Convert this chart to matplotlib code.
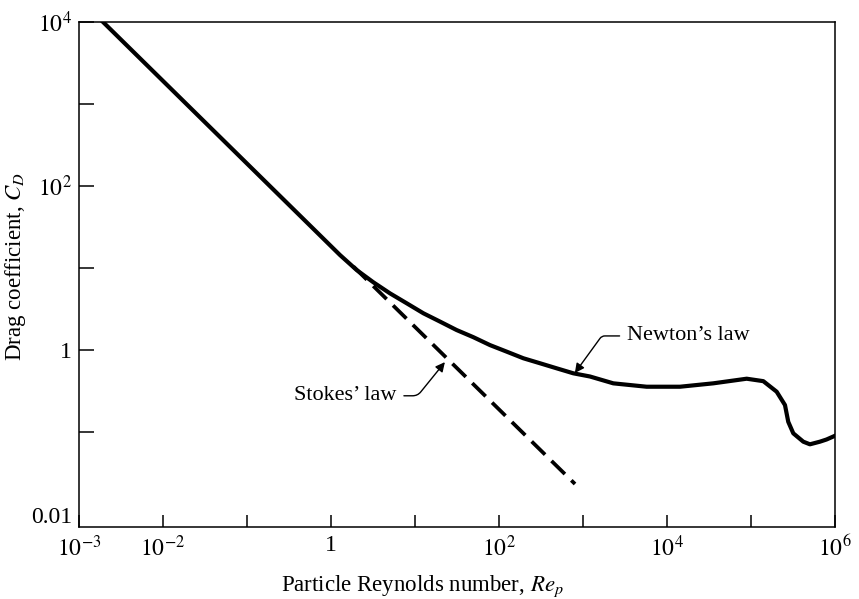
import numpy as np
import matplotlib
matplotlib.use('Agg')
import matplotlib.pyplot as plt

plt.rcParams['font.family'] = ['Liberation Serif', 'DejaVu Serif']
plt.rcParams['mathtext.fontset'] = 'stix'

# 阻力曲线（读图所得）
re_curve = [0.00193, 1.28, 2.02, 3.19, 5.04, 7.96, 12.6, 19.9, 31.3, 49.4, 78.2,
            124, 195, 308, 486, 767, 1211, 2296, 5728, 14290, 35560, 88920,
            140300, 202300, 254100, 278000, 319200, 419800, 503500, 662200,
            794300, 1.0e6]
cd_curve = [10000, 14.5, 9.53, 6.76, 4.95, 3.75, 2.83, 2.24, 1.77, 1.45, 1.16,
            0.964, 0.802, 0.697, 0.605, 0.526, 0.481, 0.397, 0.361, 0.361, 0.397, 0.452,
            0.422, 0.314, 0.216, 0.135, 0.0977, 0.0773, 0.0718, 0.0773,
            0.0822, 0.0912]

# Stokes 直线
re_stokes = [1.85, 804]
cd_stokes = [10.5, 0.0236]

x_ticks = [1e-3, 1e-2, 1e-1, 1, 1e1, 1e2, 1e3, 1e4, 1e5, 1e6]
x_labels = ['$10^{-3}$', '$10^{-2}$', '', '1', '', '$10^2$', '', '$10^4$', '', '$10^6$']
y_ticks = [1e-2, 1e-1, 1, 1e1, 1e2, 1e3, 1e4]
y_labels = ['0.01', '', '1', '', '$10^2$', '', '$10^4$']

fig = plt.figure(figsize=(8.59, 5.99), dpi=100)
ax = fig.add_axes([0.092, 0.1202, 0.880, 0.8431])

ax.plot(re_curve, cd_curve, color='black', lw=3.0, solid_joinstyle='round')
ax.plot(re_stokes, cd_stokes, color='black', lw=2.7, dashes=(5, 2.4))

ax.set_xscale('log')
ax.set_yscale('log')
ax.set_xlim(1e-3, 1e6)
ax.set_ylim(10 ** -2.151, 1e4)

ax.set_xticks(x_ticks)
ax.set_xticklabels(x_labels)
ax.set_yticks(y_ticks)
ax.set_yticklabels(y_labels)
ax.minorticks_off()
ax.tick_params(axis='x', direction='in', length=9, width=1.1, labelsize=17, pad=6)
ax.tick_params(axis='y', direction='in', length=11, width=1.1, labelsize=17, pad=5)
ax.yaxis.get_major_ticks()[0].tick1line.set_visible(False)
for sp in ax.spines.values():
    sp.set_linewidth(1.1)

ax.set_xlabel('Particle Reynolds number, $Re_p$', fontsize=16.5, labelpad=9)
ax.set_ylabel('Drag coefficient, $C_D$', fontsize=16.5, labelpad=2)
ax.xaxis.label.set_x(0.454)
ax.yaxis.label.set_y(0.515)

ax.annotate('Newton’s law', xy=(800, 0.53), xytext=(3300, 1.5),
            fontsize=16, va='center', ha='left',
            arrowprops=dict(arrowstyle='-|>', color='black', lw=1.0,
                            mutation_scale=14, shrinkA=3, shrinkB=0,
                            connectionstyle='angle,angleA=0,angleB=54,rad=3'))
ax.annotate('Stokes’ law', xy=(22.7, 0.72), xytext=(6.1, 0.28),
            fontsize=16, va='center', ha='right',
            arrowprops=dict(arrowstyle='-|>', color='black', lw=1.0,
                            mutation_scale=14, shrinkA=3, shrinkB=0,
                            connectionstyle='angle,angleA=0,angleB=51,rad=5'))

fig.savefig('out.png', dpi=100)
